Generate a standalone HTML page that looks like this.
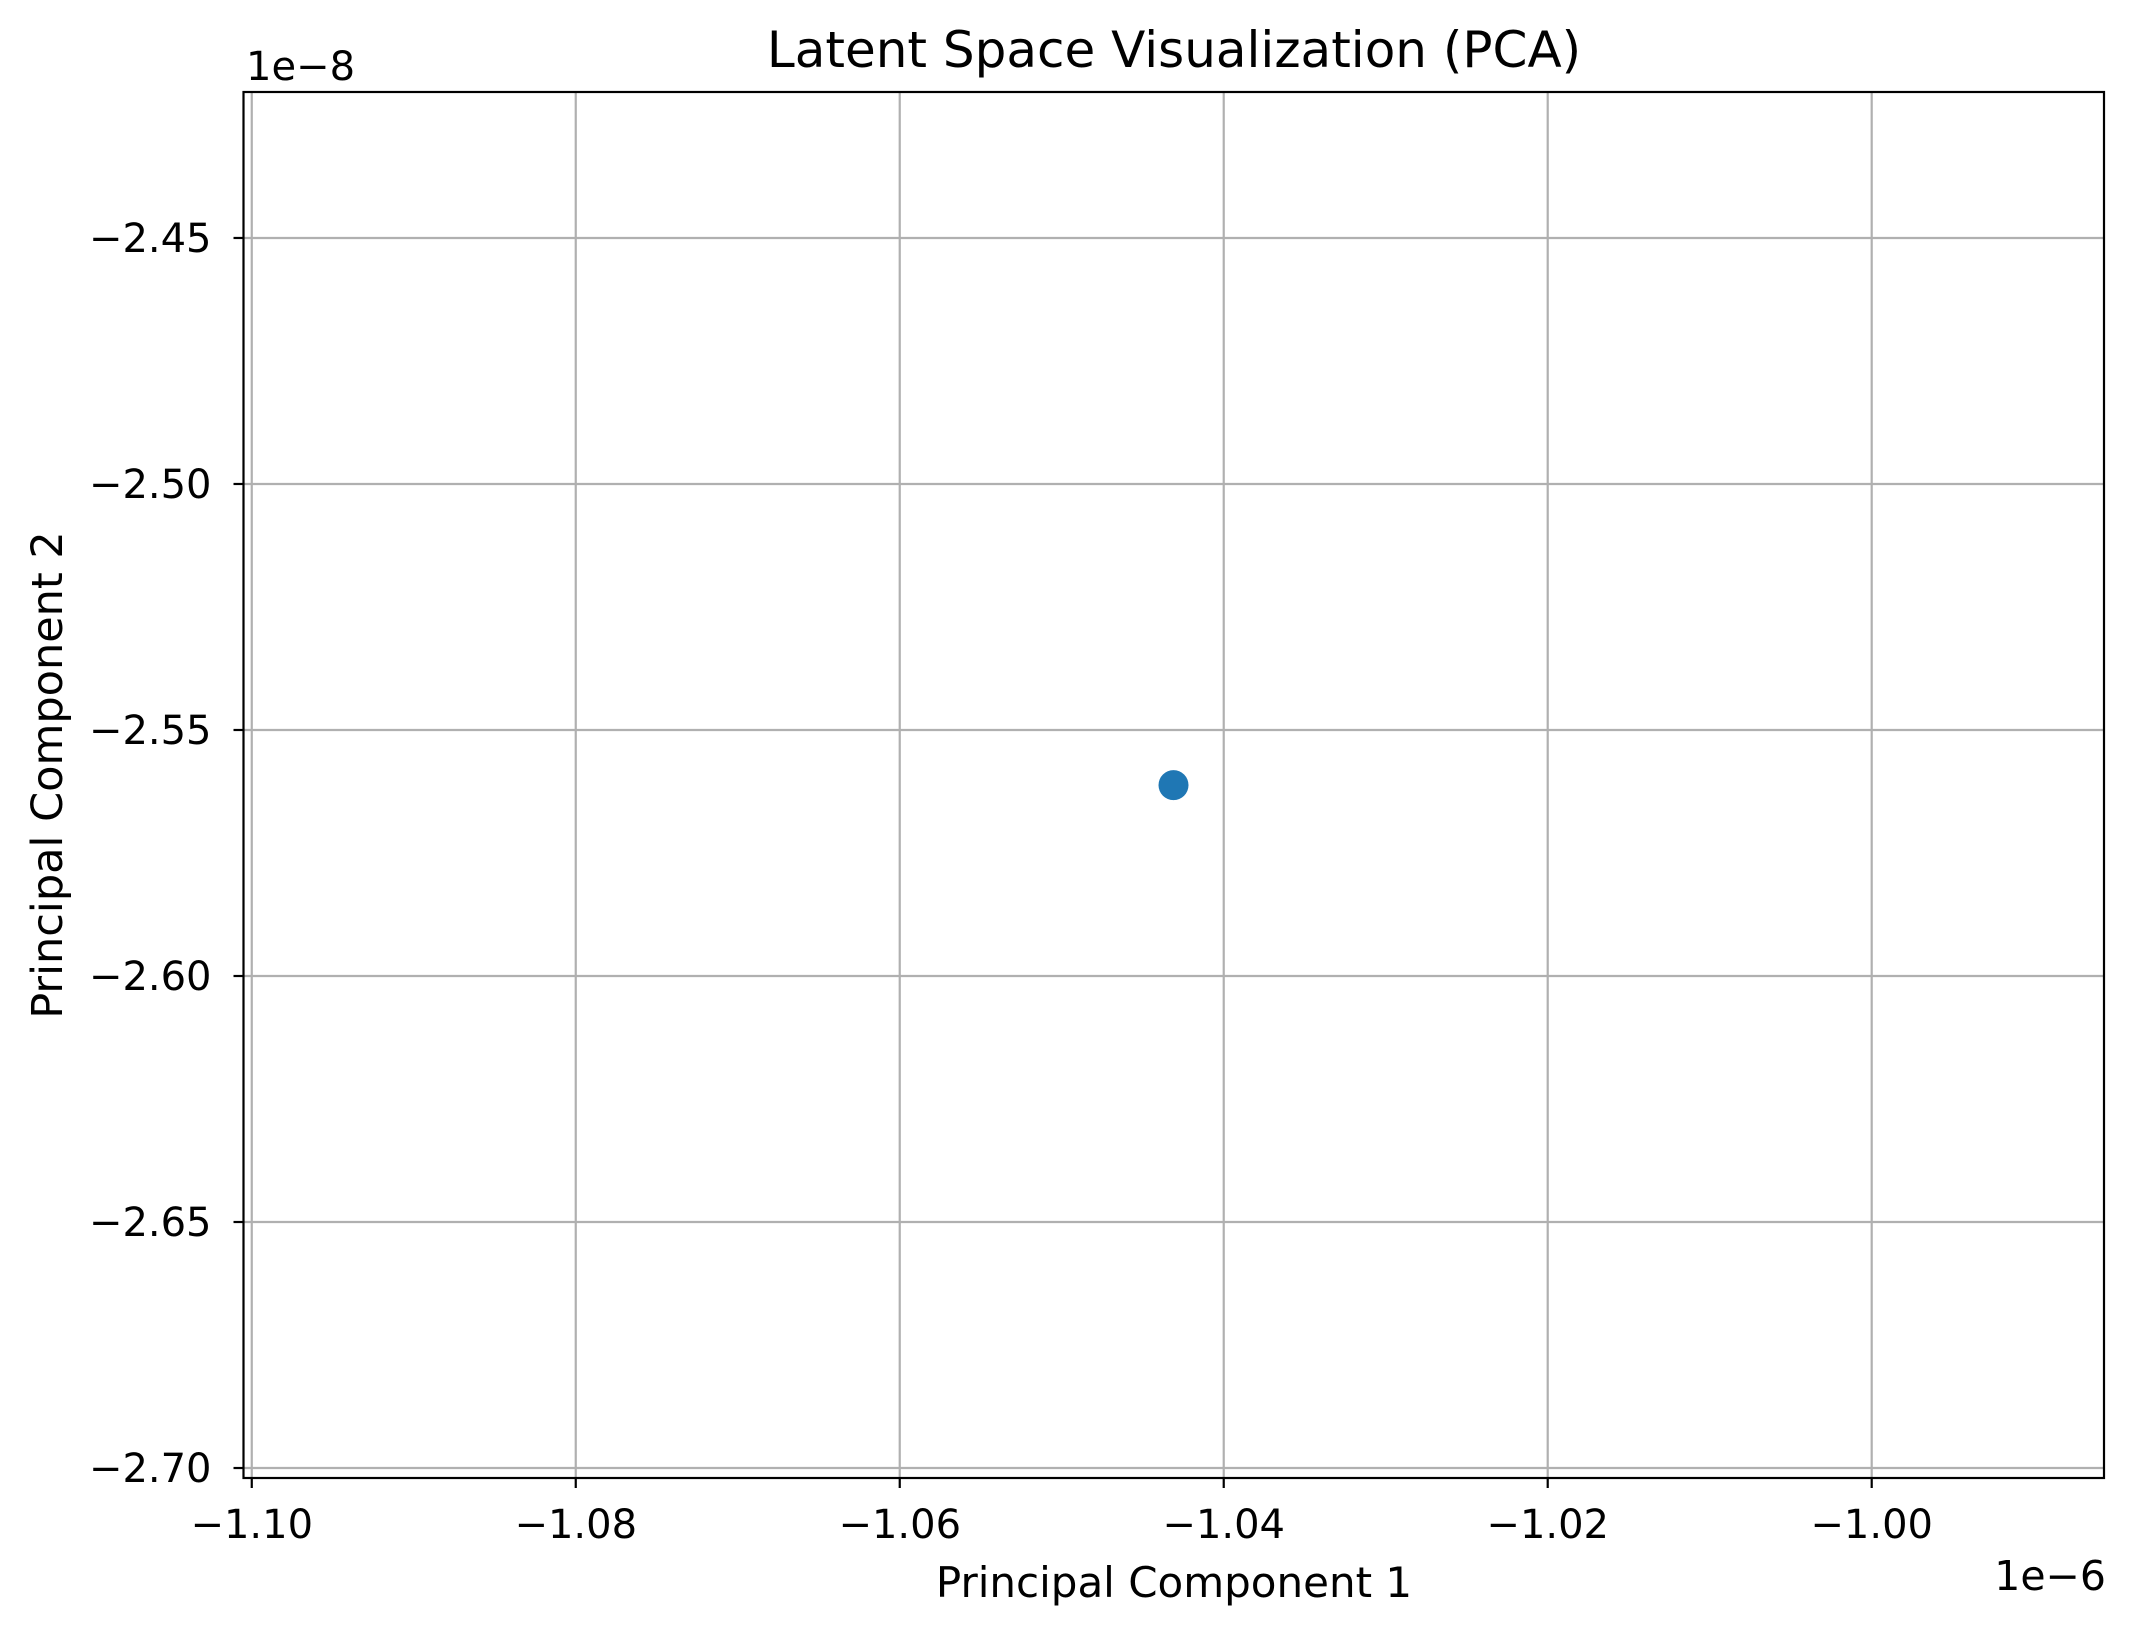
<!DOCTYPE html>
<html><head><meta charset="utf-8"><style>
html,body{margin:0;padding:0;background:#fff;}
svg{display:block;font-family:"DejaVu Sans","Liberation Sans",sans-serif;}
</style></head><body>
<svg id="chart" width="2133" height="1634" viewBox="0 0 2133 1634">
<text x="1174" y="67" font-size="50" text-anchor="middle">Latent Space Visualization (PCA)</text>
<text x="1174" y="1597" font-size="42" text-anchor="middle">Principal Component 1</text>
<text transform="translate(62,775) rotate(-90)" font-size="43" text-anchor="middle">Principal Component 2</text>
<text x="2106" y="1590" font-size="41" text-anchor="end">1e−6</text>
<text x="246" y="80" font-size="40">1e−8</text>
<g id="grid"></g><g id="marks"></g><g id="axes"></g>
</svg>
<script>
const xTicks = [-1.10, -1.08, -1.06, -1.04, -1.02, -1.00];
const xTickLabels = ["−1.10", "−1.08", "−1.06", "−1.04", "−1.02", "−1.00"];
const yTicks = [-2.45, -2.50, -2.55, -2.60, -2.65, -2.70];
const yTickLabels = ["−2.45", "−2.50", "−2.55", "−2.60", "−2.65", "−2.70"];
const pointsX = [-1.0431];
const pointsY = [-2.5612];
const xDomain = [-1.10051, -0.98566];
const yDomain = [-2.70203, -2.42033];
const L = 243.5, R = 2104, T = 92, B = 1478;
const NS = "http://www.w3.org/2000/svg";
function sx(v){return L + (v - xDomain[0]) / (xDomain[1] - xDomain[0]) * (R - L);}
function sy(v){return B - (v - yDomain[0]) / (yDomain[1] - yDomain[0]) * (B - T);}
function mk(tag, attrs, parent){const e=document.createElementNS(NS,tag);for(const k in attrs)e.setAttribute(k,attrs[k]);parent.appendChild(e);return e;}
const grid=document.getElementById('grid'), marks=document.getElementById('marks'), axes=document.getElementById('axes');
xTicks.forEach((v,i)=>{
  const x=sx(v);
  const g=mk('line',{x1:x,x2:x,y1:T,y2:B,stroke:'#b0b0b0','stroke-width':2.2},grid);
  
  
  const t=mk('line',{x1:x,x2:x,y1:B,y2:B+10,stroke:'#000','stroke-width':2.2},axes);
  
  
  const l=mk('text',{x:x,y:1538,'font-size':40,'text-anchor':'middle'},axes);
  l.textContent=xTickLabels[i];
  
  
});
yTicks.forEach((v,i)=>{
  const y=sy(v);
  const g=mk('line',{x1:L,x2:R,y1:y,y2:y,stroke:'#b0b0b0','stroke-width':2.2},grid);
  
  
  const t=mk('line',{x1:L-10,x2:L,y1:y,y2:y,stroke:'#000','stroke-width':2.2},axes);
  
  
  const l=mk('text',{x:L-32,y:y+14,'font-size':40,'text-anchor':'end'},axes);
  l.textContent=yTickLabels[i];
  
  
});
pointsX.forEach((v,i)=>{
  const c=mk('circle',{cx:sx(v),cy:sy(pointsY[i]),r:15,fill:'#1f77b4'},marks);
  
  
});
const f=mk('rect',{x:L,y:T,width:R-L,height:B-T,fill:'none',stroke:'#000','stroke-width':2.2},axes);


</script>
</body></html>
